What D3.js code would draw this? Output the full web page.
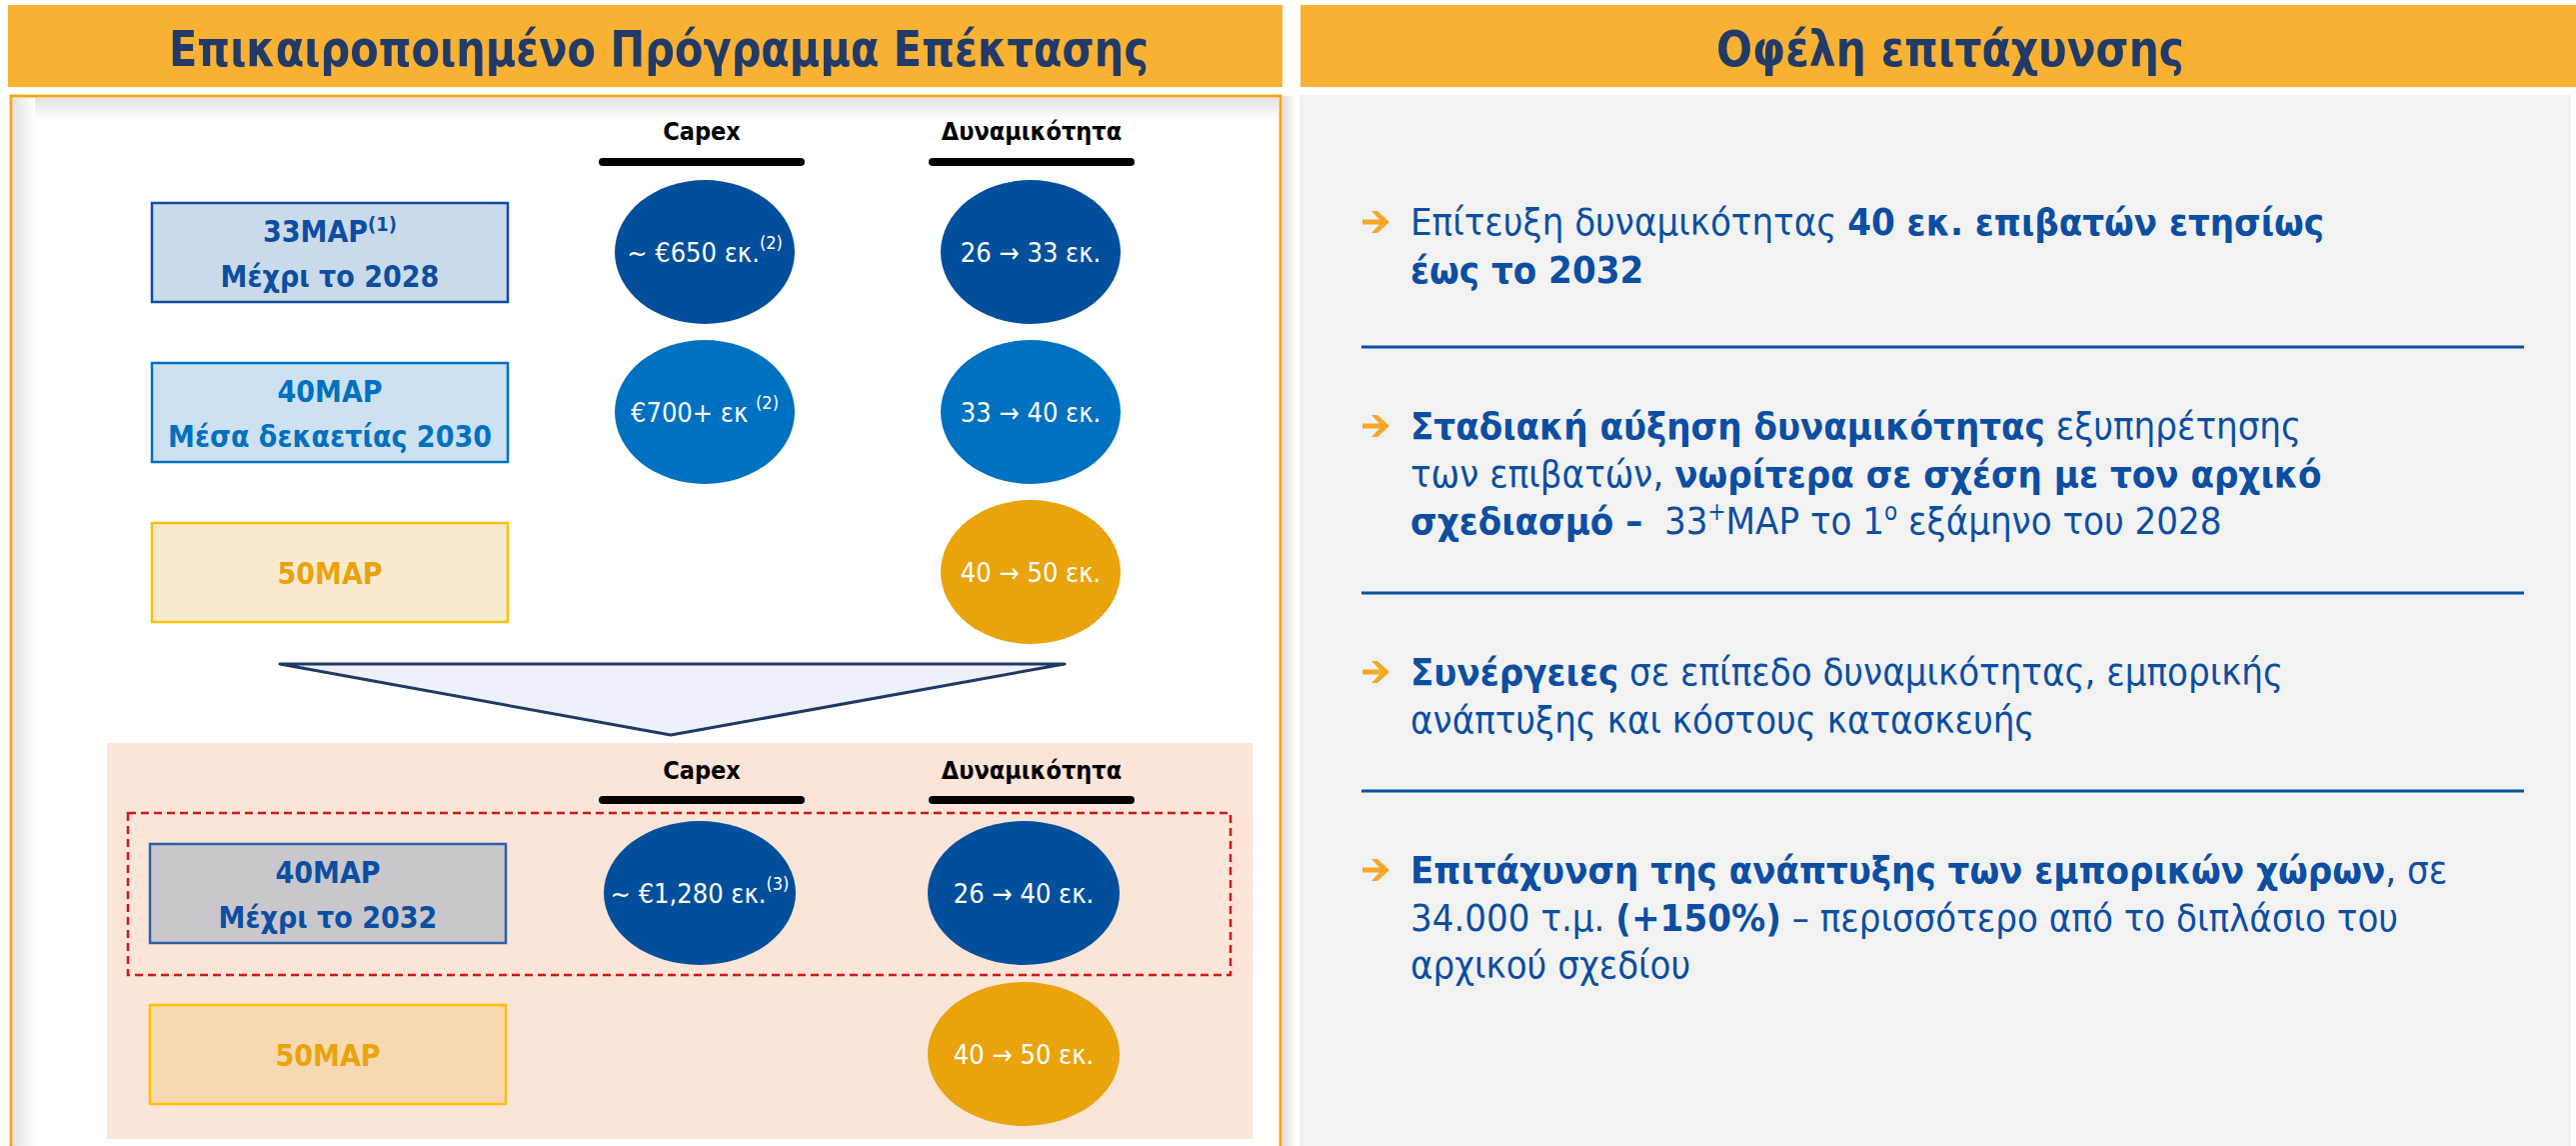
<!DOCTYPE html>
<html>
<head>
<meta charset="utf-8">
<script src="https://cdn.jsdelivr.net/npm/d3@7"></script>
<style>
    body { margin: 0; background: #fff; }
    svg { display: block; font-family: Tahoma, "DejaVu Sans Condensed", "DejaVu Sans", sans-serif; font-stretch: condensed; }
</style>
</head>
<body>
<div id="viz"></div>
<script>
"use strict";
(function(){
    // ---- data ----
    const titles = ["Επικαιροποιημένο Πρόγραμμα Επέκτασης", "Οφέλη επιτάχυνσης"]
    const columnHeaders = ["Capex", "Δυναμικότητα"]

    // original plan (top block)
    const planNames = ["33MAP", "40MAP", "50MAP"]
    const planNotes = ["(1)", "", ""]
    const planTiming = ["Μέχρι το 2028", "Μέσα δεκαετίας 2030", ""]
    const planCapex = ["~ €650 εκ.", "€700+ εκ ", ""]
    const planCapexNotes = ["(2)", "(2)", ""]
    const planCapacity = ["26 → 33 εκ.", "33 → 40 εκ.", "40 → 50 εκ."]
    const planTone = ["dark", "mid", "gold"]

    // updated plan (bottom block)
    const newNames = ["40MAP", "50MAP"]
    const newTiming = ["Μέχρι το 2032", ""]
    const newCapex = ["~ €1,280 εκ.", ""]
    const newCapexNotes = ["(3)", ""]
    const newCapacity = ["26 → 40 εκ.", "40 → 50 εκ."]
    const newTone = ["grey", "peach"]

    // benefits: each bullet is a list of lines, each line a list of [text, bold, sup]
    const bullets = [
        [
            [["Επίτευξη δυναμικότητας ", 0], ["40 εκ. επιβατών ετησίως", 1]],
            [["έως το 2032", 1]]
        ],
        [
            [["Σταδιακή αύξηση δυναμικότητας", 1], [" εξυπηρέτησης", 0]],
            [["των επιβατών, ", 0], ["νωρίτερα σε σχέση με τον αρχικό", 1]],
            [["σχεδιασμό –", 1], ["  33", 0], ["+", 0, 1], ["MAP το 1", 0], ["ο", 0, 1], [" εξάμηνο του 2028", 0]]
        ],
        [
            [["Συνέργειες", 1], [" σε επίπεδο δυναμικότητας, εμπορικής", 0]],
            [["ανάπτυξης και κόστους κατασκευής", 0]]
        ],
        [
            [["Επιτάχυνση της ανάπτυξης των εμπορικών χώρων", 1], [", σε", 0]],
            [["34.000 τ.μ. ", 0], ["(+150%)", 1], [" – περισσότερο από το διπλάσιο του", 0]],
            [["αρχικού σχεδίου", 0]]
        ]
    ]

    // ---- styles ----
    const tones = {
        dark:  { fill: "#CBDAEA", stroke: "#0B4EA2", text: "#0B4EA2", ell: "#034F9B" },
        mid:   { fill: "#CDE1F2", stroke: "#0070C0", text: "#0070C0", ell: "#0070C0" },
        gold:  { fill: "#FAEBD0", stroke: "#FFC000", text: "#E9A30C", ell: "#E8A30D" },
        grey:  { fill: "#C9C7CC", stroke: "#2E5FA8", text: "#0B4EA2", ell: "#034F9B" },
        peach: { fill: "#F7D8B0", stroke: "#FFC000", text: "#E9A30C", ell: "#E8A30D" }
    }
    const measurements = { width: 2577, height: 1146 }
    const orange = "#F8B133"
    const navy = "#213A68"
    const blue = "#0B4EA2"

    const svg = d3.select("#viz").append("svg")
        .attr("width", measurements.width)
        .attr("height", measurements.height)

    const defs = svg.append("defs")
    function grad(id, x2, y2, stops) {
        const g = defs.append("linearGradient").attr("id", id)
            .attr("x1", 0).attr("y1", 0).attr("x2", x2).attr("y2", y2)
        stops.forEach(s => g.append("stop").attr("offset", s[0]).attr("stop-color", s[1]))
    }
    grad("shTop", 0, 1, [[0, "#e2e2e2"], [1, "#ffffff"]])
    grad("shLeft", 1, 0, [[0, "#e2e2e2"], [1, "#ffffff"]])
    grad("shRight", 1, 0, [[0, "#dcdcdc"], [1, "#ffffff"]])

    // column positions
    const xCol = d3.scaleOrdinal().domain(["label", "capex", "capacity"]).range([330, 705, 1031])
    const xColNew = d3.scaleOrdinal().domain(["label", "capex", "capacity"]).range([328, 700, 1024])
    const yTop = d3.scaleLinear().domain([0, planNames.length - 1]).range([252, 572])
    const yNew = d3.scaleLinear().domain([0, newNames.length - 1]).range([893, 1054])

    /* headers */
    const headerX = [[8, 1275], [1301, 1276]]
    titles.forEach((t, i) => {
        svg.append("rect").attr("x", headerX[i][0]).attr("y", 5)
            .attr("width", headerX[i][1]).attr("height", 82).attr("fill", orange)
    })
    svg.append("text").attr("x", 659).attr("y", 66).attr("text-anchor", "middle")
        .attr("font-size", 50).attr("font-weight", "bold").attr("fill", navy)
        .attr("textLength", 980).attr("lengthAdjust", "spacingAndGlyphs").text(titles[0])
    svg.append("text").attr("x", 1951).attr("y", 66).attr("text-anchor", "middle")
        .attr("font-size", 50).attr("font-weight", "bold").attr("fill", navy)
        .attr("textLength", 468).attr("lengthAdjust", "spacingAndGlyphs").text(titles[1])

    /* left panel */
    svg.append("rect").attr("x", 11).attr("y", 96).attr("width", 1270).attr("height", 1060).attr("fill", "#fff")
    svg.append("rect").attr("x", 13).attr("y", 98).attr("width", 1266).attr("height", 22).attr("fill", "url(#shTop)")
    svg.append("rect").attr("x", 13).attr("y", 98).attr("width", 22).attr("height", 1050).attr("fill", "url(#shLeft)")
    svg.append("rect").attr("x", 11).attr("y", 96).attr("width", 1270).attr("height", 1060)
        .attr("fill", "none").attr("stroke", "#F2A51E").attr("stroke-width", 3)
    svg.append("rect").attr("x", 1283).attr("y", 96).attr("width", 14).attr("height", 1050).attr("fill", "url(#shRight)")

    /* right panel */
    svg.append("rect").attr("x", 1300).attr("y", 95).attr("width", 1272).attr("height", 1051).attr("fill", "#F2F2F2")

    /* column headers */
    function drawColumnHeaders(g, yText, yBar) {
        columnHeaders.forEach((h, i) => {
            const cx = i === 0 ? 702 : 1032
            g.append("text").attr("x", cx).attr("y", yText).attr("text-anchor", "middle")
                .attr("font-size", 25).attr("font-weight", "bold").attr("fill", "#000").text(h)
            g.append("line").attr("x1", cx - 99).attr("x2", cx + 99).attr("y1", yBar).attr("y2", yBar)
                .attr("stroke", "#000").attr("stroke-width", 8).attr("stroke-linecap", "round")
        })
    }

    function drawRows(names, notes, timing, capex, capexNotes, capacity, tone, yScale, xs, rx, boxX) {
        names.forEach((name, i) => {
            const t = tones[tone[i]]
            const cy = yScale(i)
            svg.append("rect").attr("x", boxX).attr("y", cy - 49).attr("width", 356).attr("height", 99)
                .attr("fill", t.fill).attr("stroke", t.stroke).attr("stroke-width", 2.5)
            const cx = xs("label")
            const txt = svg.append("text").attr("x", cx).attr("text-anchor", "middle")
                .attr("font-size", 30).attr("font-weight", "bold").attr("fill", t.text)
            if (timing[i]) {
                txt.attr("y", cy - 10)
                txt.append("tspan").text(name)
                if (notes && notes[i]) txt.append("tspan").attr("font-size", 20).attr("dy", -11).text(notes[i])
                svg.append("text").attr("x", cx).attr("y", cy + 35).attr("text-anchor", "middle")
                    .attr("font-size", 30).attr("font-weight", "bold").attr("fill", t.text).text(timing[i])
            } else {
                txt.attr("y", cy + 12).text(name)
            }
            // capex ellipse
            if (capex[i]) {
                svg.append("ellipse").attr("cx", xs("capex")).attr("cy", cy).attr("rx", rx).attr("ry", 72).attr("fill", t.ell)
                const ct = svg.append("text").attr("x", xs("capex")).attr("y", cy + 10).attr("text-anchor", "middle")
                    .attr("font-size", 27).attr("fill", "#fff")
                ct.append("tspan").text(capex[i])
                ct.append("tspan").attr("font-size", 18).attr("dy", -13).text(capexNotes[i])
            }
            svg.append("ellipse").attr("cx", xs("capacity")).attr("cy", cy).attr("rx", rx).attr("ry", 72).attr("fill", t.ell)
            svg.append("text").attr("x", xs("capacity")).attr("y", cy + 10).attr("text-anchor", "middle")
                .attr("font-size", 27).attr("fill", "#fff").text(capacity[i])
        })
    }

    drawColumnHeaders(svg, 140, 162)
    drawRows(planNames, planNotes, planTiming, planCapex, planCapexNotes, planCapacity, planTone, yTop, xCol, 90, 152)

    /* down triangle */
    svg.append("path")
        .attr("d", "M280,664 L1065,664 L671,735 Z")
        .attr("fill", "#EDF2FA").attr("stroke", "#1F3864").attr("stroke-width", 3).attr("stroke-linejoin", "round")

    /* updated plan block */
    svg.append("rect").attr("x", 107).attr("y", 743).attr("width", 1146).attr("height", 396).attr("fill", "#FAE5D8")
    drawColumnHeaders(svg, 779, 800)
    svg.append("rect").attr("x", 128).attr("y", 813).attr("width", 1103).attr("height", 162)
        .attr("fill", "none").attr("stroke", "#D0161E").attr("stroke-width", 2.5).attr("stroke-dasharray", "8,5")
    drawRows(newNames, null, newTiming, newCapex, newCapexNotes, newCapacity, newTone, yNew, xColNew, 96, 150)

    /* benefits */
    const bulletTop = [235, 439, 685, 883]
    const dividers = [347, 593, 791]
    const lineHeight = 47.5
    dividers.forEach(y => {
        svg.append("line").attr("x1", 1362).attr("x2", 2525).attr("y1", y).attr("y2", y)
            .attr("stroke", blue).attr("stroke-width", 3)
    })
    bullets.forEach((lines, b) => {
        // orange arrow bullet
        const ay = bulletTop[b] - 13
        svg.append("path")
            .attr("d", `M1363,${ay - 2.5} L1380,${ay - 2.5} L1372,${ay - 11} L1378,${ay - 11} L1390,${ay} L1378,${ay + 11} L1372,${ay + 11} L1380,${ay + 2.5} L1363,${ay + 2.5} Z`)
            .attr("fill", "#F5A623")
        lines.forEach((segs, l) => {
            const t = svg.append("text").attr("x", 1411).attr("y", bulletTop[b] + l * lineHeight)
                .attr("font-size", 38).attr("fill", blue).attr("xml:space", "preserve")
            segs.forEach(s => {
                const ts = t.append("tspan").text(s[0]).attr("font-weight", s[1] ? "bold" : "normal")
                if (s[2]) ts.attr("font-size", 24).attr("baseline-shift", "super")
            })
        })
    })
})()
</script>
</body>
</html>
